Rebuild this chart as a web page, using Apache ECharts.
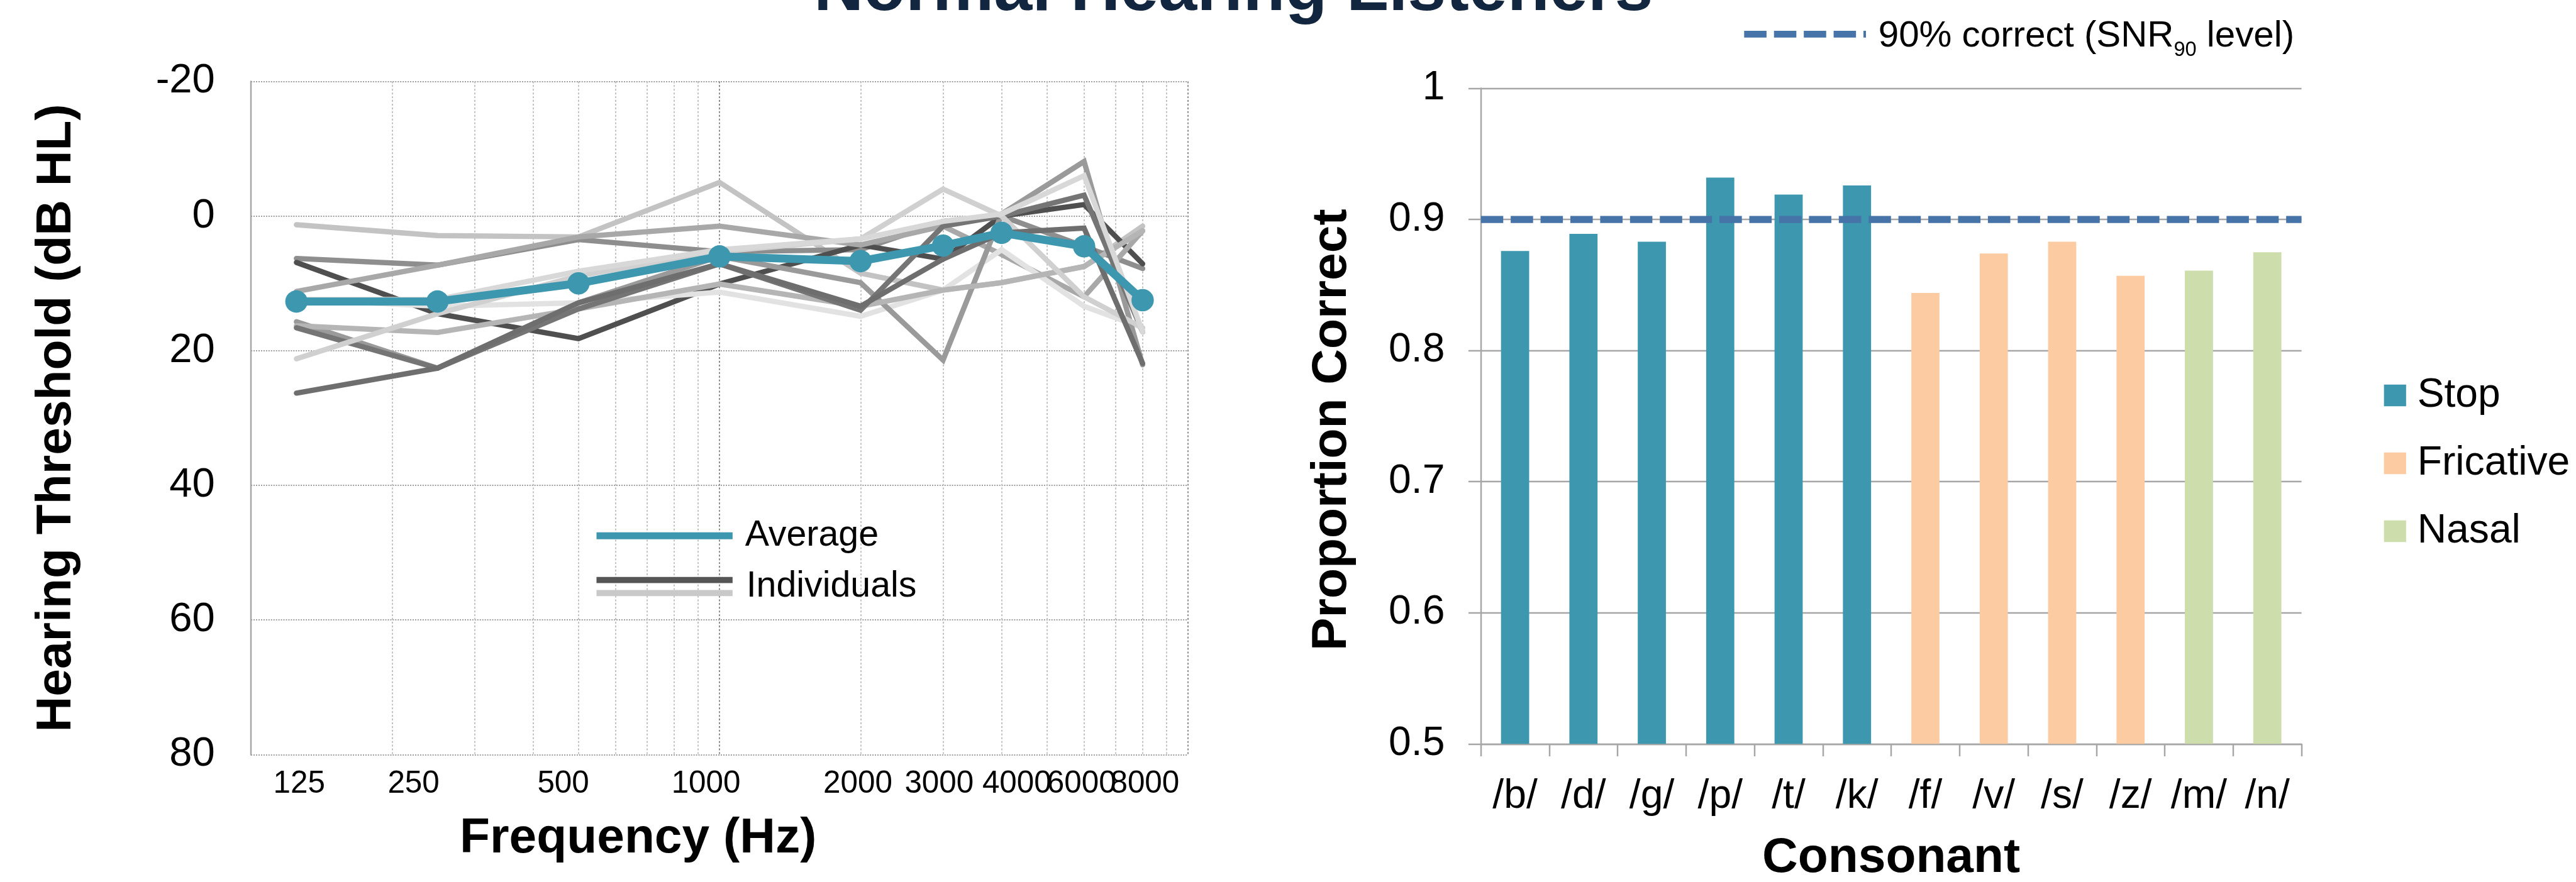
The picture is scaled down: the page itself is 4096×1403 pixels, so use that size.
<!DOCTYPE html>
<html><head><meta charset="utf-8">
<script src="https://cdn.jsdelivr.net/npm/echarts@6/dist/echarts.min.js"></script>
<style>html,body{margin:0;padding:0;background:#fff}#c{width:4096px;height:1403px}</style>
</head><body><div id="c"></div>
<script>
// ---------------- DATA ----------------
const chartTitle = 'Normal Hearing Listeners';
const frequenciesHz = [125, 250, 500, 1000, 2000, 3000, 4000, 6000, 8000];
const frequencyTickLabels = ['125', '250', '500', '1000', '2000', '3000', '4000', '6000', '8000'];
const averageThresholdDb = [12.7, 12.7, 10.0, 6.0, 6.7, 4.4, 2.5, 4.5, 12.5];
const listener01 = [1.3, 2.9, 3.1, -5.0, 8.5, 11.0, 9.9, 7.5, 1.5];
const listener02 = [6.3, 7.3, 3.5, 5.3, 5.0, 0.8, 0.0, 4.5, 7.8];
const listener03 = [6.9, 14.5, 18.2, 10.1, 4.3, 6.4, 0.0, -1.7, 7.1];
const listener04 = [11.2, 7.3, 3.1, 1.5, 4.3, 1.5, 5.7, 12.0, 2.2];
const listener05 = [12.4, 13.4, 12.9, 11.3, 14.9, 11.0, 5.0, 13.4, 16.6];
const listener06 = [15.7, 22.6, 12.9, 6.0, 9.9, 21.4, -0.3, -8.1, 22.1];
const listener07 = [16.3, 17.3, 13.8, 10.1, 13.4, 11.0, 9.9, 7.5, 2.2];
const listener08 = [16.6, 22.6, 13.8, 7.1, 14.0, 1.5, 0.0, -3.1, 17.2];
const listener09 = [21.2, 14.5, 8.9, 5.3, 3.4, -4.0, 0.0, 12.0, 16.6];
const listener10 = [26.3, 22.6, 12.9, 7.1, 13.4, 6.4, 2.5, 1.8, 21.9];
const listener11 = [12.4, 12.4, 8.2, 5.0, 3.4, 0.8, -0.3, -6.0, 17.2];
const individualThresholdsDb = [listener01, listener02, listener03, listener04, listener05, listener06,
  listener07, listener08, listener09, listener10, listener11];

const consonants = ['/b/', '/d/', '/g/', '/p/', '/t/', '/k/', '/f/', '/v/', '/s/', '/z/', '/m/', '/n/'];
const consonantManner = ['Stop', 'Stop', 'Stop', 'Stop', 'Stop', 'Stop',
  'Fricative', 'Fricative', 'Fricative', 'Fricative', 'Nasal', 'Nasal'];
const proportionCorrect = [0.876, 0.889, 0.883, 0.932, 0.919, 0.926, 0.844, 0.874, 0.883, 0.857, 0.861, 0.875];
const mannerClasses = ['Stop', 'Fricative', 'Nasal'];
const snr90Criterion = 0.9;

// ---------------- LAYOUT / STYLE ----------------
const S = 0.988;
const px = v => v * S;
const FONT = '"Liberation Sans", Arial, sans-serif';
const AXIS_GREY = '#A6A6A6';
const TEAL = '#3D97AE';
const mannerColors = { Stop: '#3D97AE', Fricative: '#FCCBA1', Nasal: '#CDDDAB' };
const individualColors = ['#C3C3C3', '#8E8E8E', '#4F4F4F', '#A8A8A8', '#E2E2E2', '#9A9A9A',
  '#B5B5B5', '#757575', '#D0D0D0', '#6E6E6E', '#D8D8D8'];
// hand-placed positions (in Hz) of the frequency tick labels of the original figure
const freqLabelAnchorHz = [126.7, 222.3, 463.9, 935.6, 1973, 2943, 4311, 5924, 8087];
// labels are split over two stacked axes so that neighbouring labels are never auto-hidden
const labelAnchorsA = freqLabelAnchorHz.filter((_, i) => i % 2 === 0);
const labelAnchorsB = freqLabelAnchorHz.filter((_, i) => i % 2 === 1);
// log gridlines at 2..9 x each decade
const logGridHz = [];
[100, 1000].forEach(d => { for (let m = 2; m <= 9; m++) logGridHz.push(d * m); });

const chart = echarts.init(document.getElementById('c'));

const individualSeries = individualThresholdsDb.map((vals, i) => ({
  type: 'line', name: 'Individuals', xAxisIndex: 0, yAxisIndex: 0,
  data: frequenciesHz.map((f, j) => [f, vals[j]]),
  symbol: 'none', silent: true, z: 2,
  lineStyle: { color: individualColors[i], width: px(8.5), cap: 'round', join: 'miter' },
  itemStyle: { color: individualColors[i] }
}));

const barSeries = mannerClasses.map(cls => ({
  type: 'bar', name: cls, xAxisIndex: 2, yAxisIndex: 1,
  data: proportionCorrect.map((v, i) => consonantManner[i] === cls ? v : null),
  barWidth: px(45.3), barGap: '-100%',
  itemStyle: { color: mannerColors[cls] }, z: 2
}));

const labelText = v => {
  let best = 0, bd = Infinity;
  freqLabelAnchorHz.forEach((a, i) => { const d = Math.abs(Math.log(a) - Math.log(v)); if (d < bd) { bd = d; best = i; } });
  return frequencyTickLabels[best];
};
const freqLabelStyle = anchors => ({
  customValues: anchors, formatter: labelText, fontSize: px(50), color: '#000',
  fontFamily: FONT, margin: px(23), hideOverlap: false, showMinLabel: true, showMaxLabel: true
});

const option = {
  animation: false,
  backgroundColor: '#fff',
  textStyle: { fontFamily: FONT },
  graphic: [{
    type: 'text', x: px(1985), y: px(21) + 0.18 * px(111),
    style: { text: chartTitle, fill: '#132640', font: 'bold ' + px(111) + 'px ' + FONT,
      textAlign: 'center', textVerticalAlign: 'bottom', verticalAlign: 'bottom' }
  }],
  grid: [
    { left: px(404), top: px(131), width: px(1508), height: px(1084), outerBoundsMode: 'none', containLabel: false },
    { left: px(2383.3), top: px(142.3), width: px(1320.7), height: px(1055.4), outerBoundsMode: 'none', containLabel: false }
  ],
  xAxis: [
    {
      type: 'log', logBase: 10, min: 100, max: 10000, gridIndex: 0, position: 'bottom',
      axisLine: { show: false }, axisTick: { show: false, customValues: logGridHz },
      splitLine: { show: true, lineStyle: { color: '#C2C2C2', width: px(2), type: [px(3), px(3)] } },
      axisLabel: freqLabelStyle(labelAnchorsA),
      name: 'Frequency (Hz)', nameLocation: 'middle', nameGap: px(96), nameMoveOverlap: false,
      nameTextStyle: { fontSize: px(79.5), fontWeight: 'bold', color: '#000', fontFamily: FONT, padding: [0, px(262), 0, 0] }
    },
    {
      type: 'log', logBase: 10, min: 100, max: 10000, gridIndex: 0, position: 'bottom', offset: 0,
      axisLine: { show: false }, axisTick: { show: false },
      axisLabel: freqLabelStyle(labelAnchorsB),
      splitLine: { show: true, lineStyle: { color: '#8F8F8F', width: px(2), type: [px(3), px(3)] } }
    },
    {
      type: 'category', gridIndex: 1, data: consonants, position: 'bottom',
      axisLine: { show: true, lineStyle: { color: AXIS_GREY, width: px(2.5) } },
      axisTick: { show: true, interval: 0, length: px(20), lineStyle: { color: AXIS_GREY, width: px(2.5) } },
      axisLabel: { interval: 0, hideOverlap: false, fontSize: px(65), color: '#000', fontFamily: FONT, margin: px(53) },
      splitLine: { show: false },
      name: 'Consonant', nameLocation: 'middle', nameGap: px(144), nameMoveOverlap: false,
      nameTextStyle: { fontSize: px(79.5), fontWeight: 'bold', color: '#000', fontFamily: FONT }
    },
    { type: 'value', gridIndex: 1, min: 0, max: 1, show: false }
  ],
  yAxis: [
    {
      type: 'value', gridIndex: 0, min: -20, max: 80, interval: 20, inverse: true,
      axisLine: { show: true, lineStyle: { color: AXIS_GREY, width: px(2.5) } },
      axisTick: { show: false },
      splitLine: { show: true, lineStyle: { color: '#9C9C9C', width: px(2), type: [px(2), px(2)] } },
      axisLabel: { fontSize: px(66), color: '#000', fontFamily: FONT, margin: px(58) },
      name: 'Hearing Threshold (dB HL)', nameLocation: 'middle', nameRotate: 90, nameGap: px(273), nameMoveOverlap: false,
      nameTextStyle: { fontSize: px(79.5), fontWeight: 'bold', color: '#000', fontFamily: FONT }
    },
    {
      type: 'value', gridIndex: 1, min: 0.5, max: 1, interval: 0.1,
      axisLine: { show: true, lineStyle: { color: AXIS_GREY, width: px(2.5) } },
      axisTick: { show: true, length: px(20), lineStyle: { color: AXIS_GREY, width: px(2.5) } },
      splitLine: { show: true, lineStyle: { color: AXIS_GREY, width: px(2.5) } },
      axisLabel: { fontSize: px(65), color: '#000', fontFamily: FONT, margin: px(58) },
      name: 'Proportion Correct', nameLocation: 'middle', nameRotate: 90, nameGap: px(199), nameMoveOverlap: false,
      nameTextStyle: { fontSize: px(79.5), fontWeight: 'bold', color: '#000', fontFamily: FONT, padding: [0, px(44), 0, 0] }
    }
  ],
  legend: [
    {
      data: [{ name: 'Average', icon: 'rect' }], selectedMode: false, orient: 'vertical',
      left: px(960), top: px(862.7) - px(58) / 2, padding: 0,
      itemWidth: px(219), itemHeight: px(11),
      textStyle: { fontSize: px(58), color: '#000', fontFamily: FONT, padding: [0, 0, 0, px(15)] }
    },
    {
      data: [{ name: 'Individuals', icon: 'path://M0,0H219V10H0Z M0,21H219V31H0Z',
        itemStyle: { color: { type: 'linear', x: 0, y: 0, x2: 0, y2: 1, colorStops: [
          { offset: 0, color: '#555555' }, { offset: 0.5, color: '#555555' },
          { offset: 0.5, color: '#C9C9C9' }, { offset: 1, color: '#C9C9C9' }] } } }],
      selectedMode: false, orient: 'vertical',
      left: px(960), top: px(944.5) - px(58) / 2, padding: 0,
      itemWidth: px(219), itemHeight: px(31),
      textStyle: { fontSize: px(58), color: '#000', fontFamily: FONT, padding: [0, 0, px(8), px(17)] }
    },
    {
      data: mannerClasses.map(n => ({ name: n, icon: 'rect' })), selectedMode: false, orient: 'vertical',
      left: px(3836.7), top: px(636.8) - px(65) / 2, padding: 0,
      itemWidth: px(35.6), itemHeight: px(35), itemGap: px(109.5 - 65),
      textStyle: { fontSize: px(65), color: '#000', fontFamily: FONT, padding: [px(14), 0, 0, px(13)] }
    },
    {
      data: [{ name: 'SNR90', icon: 'path://M0,0H36V11H0Z M48,0H84V11H48Z M96,0H132V11H96Z M144,0H180V11H144Z M192,0H196V11H192Z' }],
      selectedMode: false, left: px(2807), top: px(51) - px(78) / 2, padding: 0,
      itemWidth: px(196), itemHeight: px(11.3),
      formatter: () => '90% correct (SNR{sub|90} level)',
      textStyle: { fontSize: px(59), lineHeight: px(78), color: '#000', fontFamily: FONT, padding: [px(8), 0, 0, px(15)],
        rich: { sub: { fontSize: px(33), lineHeight: px(32), verticalAlign: 'bottom', color: '#000', fontFamily: FONT } } }
    }
  ],
  series: [
    ...individualSeries,
    {
      type: 'line', name: 'Average', xAxisIndex: 0, yAxisIndex: 0,
      data: frequenciesHz.map((f, j) => [f, averageThresholdDb[j]]),
      symbol: 'circle', symbolSize: px(36), z: 5,
      lineStyle: { color: TEAL, width: px(13) }, itemStyle: { color: TEAL }
    },
    ...barSeries,
    {
      type: 'line', name: 'SNR90', xAxisIndex: 3, yAxisIndex: 1,
      data: [[0, snr90Criterion], [1, snr90Criterion]], symbol: 'none', z: 6,
      lineStyle: { color: '#4673A8', width: px(11.3), type: [px(36), px(12)] },
      itemStyle: { color: '#4673A8' }
    }
  ]
};
chart.setOption(option);
</script></body></html>
